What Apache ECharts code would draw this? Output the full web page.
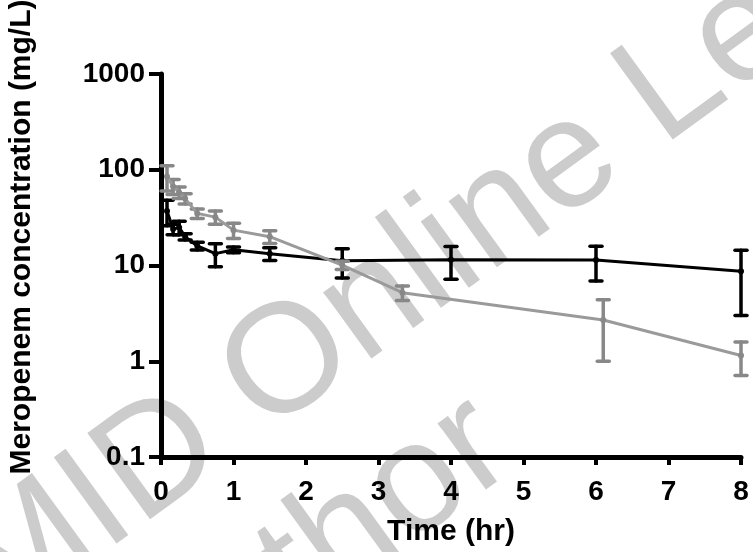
<!DOCTYPE html>
<html>
<head>
<meta charset="utf-8">
<script src="https://cdn.jsdelivr.net/npm/echarts@6/dist/echarts.min.js"></script>
<style>
html,body{margin:0;padding:0;background:#fff;}
#c{width:753px;height:552px;}
</style>
</head>
<body>
<div id="c"></div>
<script>
const xTicks = [0,1,2,3,4,5,6,7,8];
const yTickLabels = ['0.1','1','10','100','1000'];
const xTitle = 'Time (hr)';
const yTitle = 'Meropenem concentration (mg/L)';

const blackTime = [0.083, 0.167, 0.25, 0.333, 0.5, 0.75, 1, 1.5, 2.5, 4, 6, 8];
const blackMean = [37, 24, 25, 20, 16, 13.3, 14.6, 13.3, 11.2, 11.5, 11.4, 8.7];
const blackSD   = [11, 3, 4, 1.5, 1.5, 3.6, 1, 2, 3.8, 4.3, 4.5, 5.7];

const grayTime = [0.083, 0.167, 0.25, 0.333, 0.5, 0.75, 1, 1.5, 2.5, 3.33, 6.1, 8];
const grayMean = [85, 67, 58, 50, 35, 32, 23.4, 20, 10.1, 5.2, 2.7, 1.15];
const graySD   = [25, 12, 8, 6, 4, 5, 4.3, 3, 1, 0.9, 1.7, 0.44];

const watermark1 = 'MID Online Lecture';
const watermark2 = 'Author';

const FONT = '"Liberation Sans", Arial, Helvetica, sans-serif';

function pts(t, m){ return t.map((v,i)=>[v, m[i]]); }
function errPts(t, m, s){ return t.map((v,i)=>[v, m[i], s[i]]); }

function errRender(color){
  return function(params, api){
    const x = api.value(0), m = api.value(1), s = api.value(2);
    const hi = api.coord([x, m + s]);
    const lo = api.coord([x, Math.max(m - s, 0.1001)]);
    const w = 6;
    const st = {stroke: color, lineWidth: 3.5, lineCap: 'round'};
    return {type:'group', children:[
      {type:'line', shape:{x1:hi[0], y1:hi[1], x2:lo[0], y2:lo[1]}, style:st},
      {type:'line', shape:{x1:hi[0]-w, y1:hi[1], x2:hi[0]+w, y2:hi[1]}, style:st},
      {type:'line', shape:{x1:lo[0]-w, y1:lo[1], x2:lo[0]+w, y2:lo[1]}, style:st}
    ]};
  };
}

const chart = echarts.init(document.getElementById('c'), null, {renderer:'canvas'});
chart.setOption({
  backgroundColor:'#ffffff',
  animation:false,
  grid:{left:161, right:12, top:74, bottom:92, containLabel:false},
  xAxis:{
    type:'value', min:0, max:8, interval:1,
    name:xTitle, nameLocation:'middle', nameGap:60,
    nameTextStyle:{fontSize:30, fontWeight:'bold', fontFamily:FONT, color:'#000'},
    axisLine:{lineStyle:{color:'#000', width:5, cap:'round'}},
    axisTick:{length:8, lineStyle:{color:'#000', width:4}},
    axisLabel:{fontSize:28, fontWeight:'bold', fontFamily:FONT, color:'#000', margin:21,
      formatter:(v)=> String(xTicks[Math.round(v)])},
    splitLine:{show:false}
  },
  yAxis:{
    type:'log', logBase:10, min:0.1, max:1000,
    axisLine:{lineStyle:{color:'#000', width:5}},
    axisTick:{length:12, lineStyle:{color:'#000', width:4}},
    axisLabel:{fontSize:28, fontWeight:'bold', fontFamily:FONT, color:'#000', margin:16,
      formatter:(v, i)=> yTickLabels[i]},
    splitLine:{show:false},
    minorTick:{show:false}
  },
  graphic:[
    {type:'text', x:22, y:237, rotation:Math.PI/2, z:10, silent:true,
      style:{text:yTitle, fontSize:30, fontWeight:'bold', fontFamily:FONT, fill:'#000',
        textAlign:'center', textVerticalAlign:'middle'}},
    {type:'text', x:21, y:656, rotation:36*Math.PI/180, z:-10, silent:true,
      style:{text:watermark1, fontSize:155, fontFamily:FONT, fill:'#cccccc', textVerticalAlign:'bottom'}},
    {type:'text', x:170, y:762, rotation:36*Math.PI/180, z:-10, silent:true,
      style:{text:watermark2, fontSize:155, fontFamily:FONT, fill:'#cccccc', textVerticalAlign:'bottom'}}
  ],
  series:[
    {type:'line', data:pts(blackTime, blackMean), symbol:'circle', symbolSize:6,
      itemStyle:{color:'#000'}, lineStyle:{color:'#000', width:3}, z:3},
    {type:'custom', data:errPts(blackTime, blackMean, blackSD), renderItem:errRender('#000'), z:3},
    {type:'line', data:pts(grayTime, grayMean), symbol:'circle', symbolSize:6,
      itemStyle:{color:'#888'}, lineStyle:{color:'#9a9a9a', width:3}, z:4},
    {type:'custom', data:errPts(grayTime, grayMean, graySD), renderItem:errRender('#888'), z:4}
  ]
});
</script>
</body>
</html>
